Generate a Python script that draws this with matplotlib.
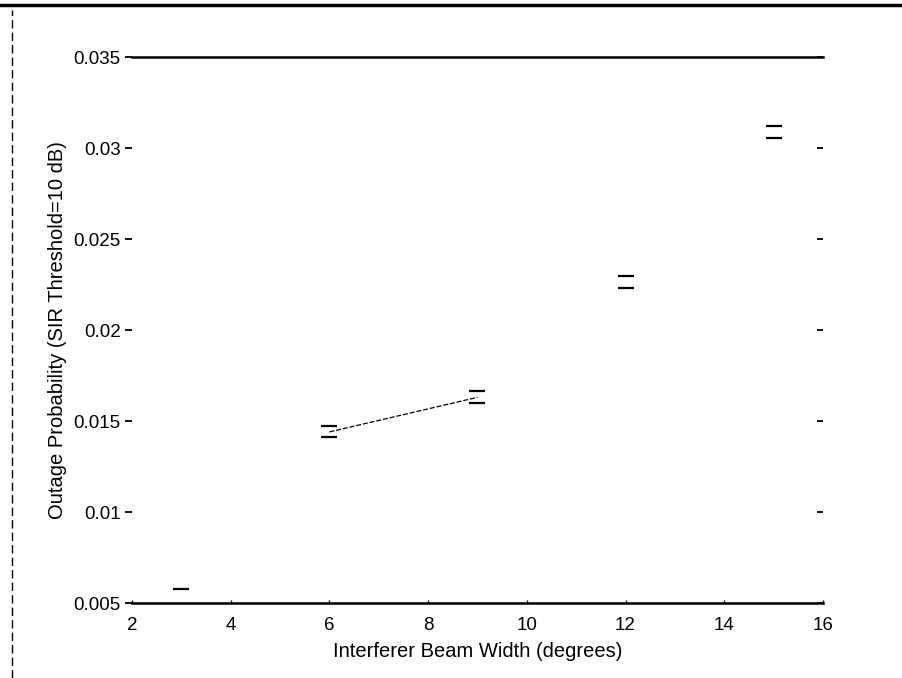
import matplotlib
matplotlib.use('Agg')
import matplotlib.pyplot as plt
from matplotlib.lines import Line2D

plt.rcParams['font.family'] = ['Liberation Sans', 'DejaVu Sans']

# beam width (degrees) and outage probability with error bounds
beam_width = [3, 6, 9, 12, 15]
outage_mean = [0.0053, 0.0144, 0.0163, 0.0226, 0.0309]
outage_low = [0.0049, 0.0141, 0.0160, 0.0223, 0.03055]
outage_high = [0.00577, 0.01473, 0.01665, 0.02297, 0.03121]

# only the segment between 6 and 9 degrees is drawn as a line
line_x = beam_width[1:3]
line_y = outage_mean[1:3]

x_ticks = [2, 4, 6, 8, 10, 12, 14, 16]
y_ticks = [0.005, 0.01, 0.015, 0.02, 0.025, 0.03, 0.035]
y_tick_labels = ['0.005', '0.01', '0.015', '0.02', '0.025', '0.03', '0.035']

fig = plt.figure(figsize=(9.02, 6.78), dpi=100)
ax = fig.add_axes([0.1463, 0.1106, 0.7661, 0.8053])

# error caps only, no vertical bars
err_lo = [m - l for m, l in zip(outage_mean, outage_low)]
err_hi = [h - m for m, h in zip(outage_mean, outage_high)]
ax.errorbar(beam_width, outage_mean, yerr=[err_lo, err_hi], fmt='none',
            ecolor='black', elinewidth=0, capsize=6, capthick=1.6)

ax.plot(line_x, line_y, color='black', linewidth=0.9, linestyle=(0, (4, 1.5)))

ax.set_xlim(2, 16)
ax.set_ylim(0.005, 0.035)
ax.set_xticks(x_ticks)
ax.set_yticks(y_ticks)
ax.set_yticklabels(y_tick_labels)

for side in ['left', 'right']:
    ax.spines[side].set_visible(False)
ax.spines['top'].set_linewidth(1.8)
ax.spines['bottom'].set_linewidth(1.8)

ax.tick_params(axis='y', left=True, right=False, direction='out',
               length=5, width=1.3, labelsize=13.5, pad=3)
ax.tick_params(axis='x', direction='in', length=2, width=1, labelsize=13.5, pad=10)

# right hand tick marks point inward
ax2 = ax.twinx()
ax2.set_ylim(ax.get_ylim())
ax2.set_yticks(y_ticks)
ax2.tick_params(axis='y', direction='in', length=4, width=1.3, labelright=False)
for side in ax2.spines:
    ax2.spines[side].set_visible(False)

ax.set_xlabel('Interferer Beam Width (degrees)', fontsize=14.5, labelpad=6)
ax.set_ylabel('Outage Probability (SIR Threshold=10 dB)', fontsize=14.5, labelpad=5)

# scanned page border
fig.add_artist(Line2D([0.0, 1.0], [0.992, 0.992], color='black', linewidth=2.5,
                      transform=fig.transFigure))
fig.add_artist(Line2D([0.013, 0.013], [0.0, 0.985], color='black', linewidth=1,
                      linestyle=(0, (6, 3)), transform=fig.transFigure))

fig.savefig('out.png', dpi=100, facecolor='white')
